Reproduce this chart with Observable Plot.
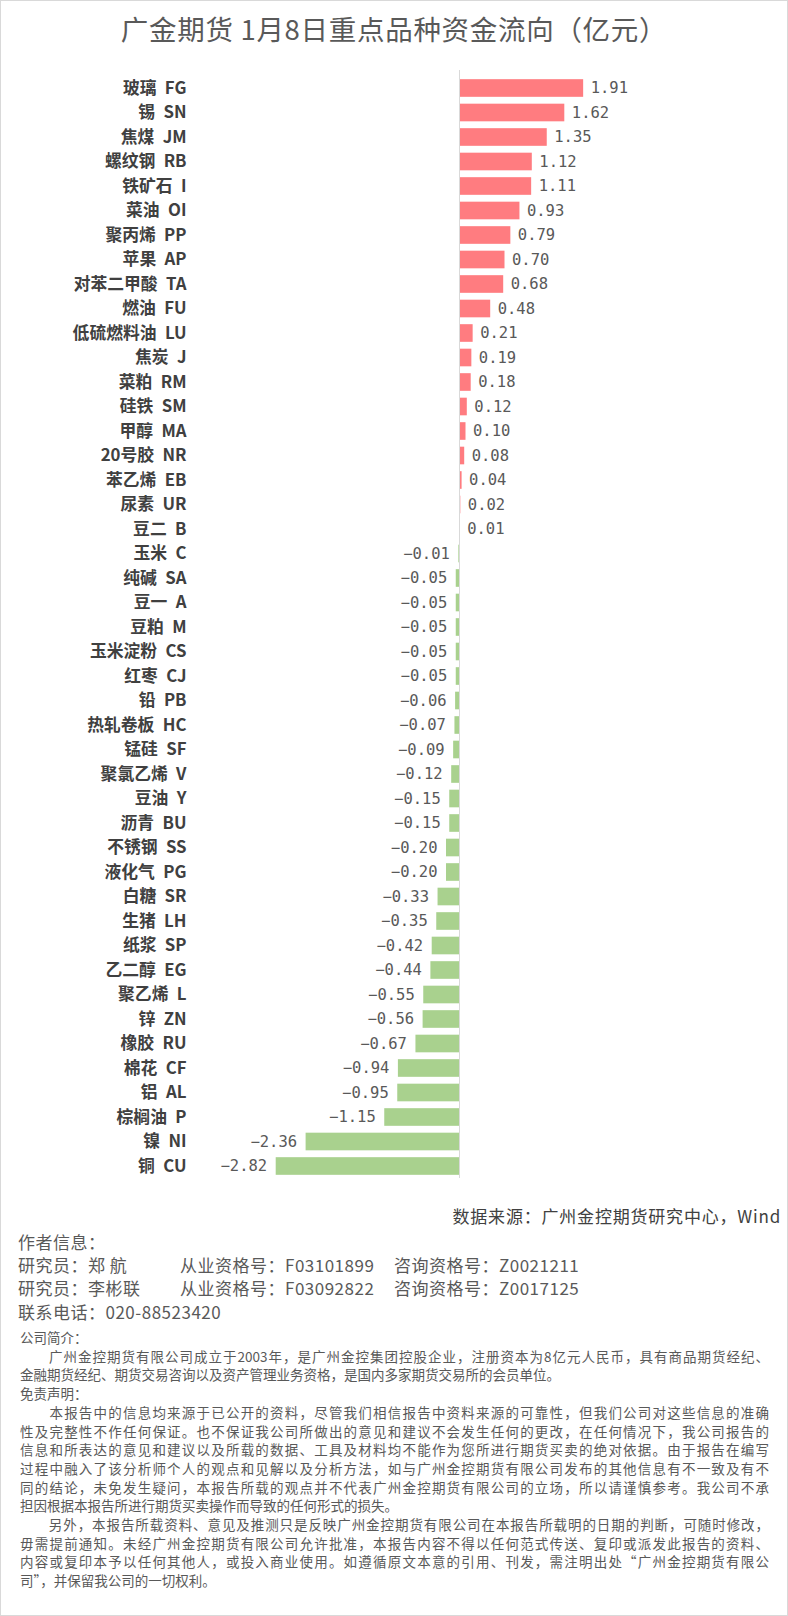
<!DOCTYPE html>
<html><head><meta charset="utf-8">
<script src="https://cdn.jsdelivr.net/npm/d3@7"></script>
<script src="https://cdn.jsdelivr.net/npm/@observablehq/plot@0.6"></script>
<style>
body{margin:0;background:#fff;}
#page{position:relative;width:788px;height:1616px;overflow:hidden;font-family:"Noto Sans CJK SC",sans-serif;color:#595959;background:#fff;}
#frame{position:absolute;left:0;top:0;right:0;bottom:0;border:1px solid #d9d9d9;pointer-events:none;}
#title{position:absolute;left:0;top:8px;width:788px;text-align:center;font-size:27.5px;line-height:40px;color:#595959;letter-spacing:0.7px;}
#chart{position:absolute;left:0;top:60px;}
.t{position:absolute;white-space:nowrap;}
.p{position:absolute;left:20px;width:749px;white-space:nowrap;font-size:13.5px;line-height:18px;color:#595959;}
.j{text-align:justify;text-align-last:justify;white-space:normal;}
</style></head><body>
<div id="page">
<div id="title">广金期货 1月8日重点品种资金流向（亿元）</div>
<div id="chart"></div>
<div id="footer"></div>
<div id="frame"></div>
</div>
<script>
const names = ["玻璃","锡","焦煤","螺纹钢","铁矿石","菜油","聚丙烯","苹果","对苯二甲酸","燃油","低硫燃料油","焦炭","菜粕","硅铁","甲醇","20号胶","苯乙烯","尿素","豆二","玉米","纯碱","豆一","豆粕","玉米淀粉","红枣","铅","热轧卷板","锰硅","聚氯乙烯","豆油","沥青","不锈钢","液化气","白糖","生猪","纸浆","乙二醇","聚乙烯","锌","橡胶","棉花","铝","棕榈油","镍","铜"];
const codes = ["FG","SN","JM","RB","I","OI","PP","AP","TA","FU","LU","J","RM","SM","MA","NR","EB","UR","B","C","SA","A","M","CS","CJ","PB","HC","SF","V","Y","BU","SS","PG","SR","LH","SP","EG","L","ZN","RU","CF","AL","P","NI","CU"];
const values = [1.91,1.62,1.35,1.12,1.11,0.93,0.79,0.70,0.68,0.48,0.21,0.19,0.18,0.12,0.10,0.08,0.04,0.02,0.01,-0.01,-0.05,-0.05,-0.05,-0.05,-0.05,-0.06,-0.07,-0.09,-0.12,-0.15,-0.15,-0.20,-0.20,-0.33,-0.35,-0.42,-0.44,-0.55,-0.56,-0.67,-0.94,-0.95,-1.15,-2.36,-2.82];

const sourceText = "数据来源：广州金控期货研究中心，Wind";
const authorHead = "作者信息：";
const authors = [
  ["研究员：郑 航", "从业资格号：F03101899", "咨询资格号：Z0021211"],
  ["研究员：李彬联", "从业资格号：F03092822", "咨询资格号：Z0017125"]
];
const phone = "联系电话：020-88523420";
const paraLines = [
  ["公司简介：", 0],
  ["　　广州金控期货有限公司成立于2003年，是广州金控集团控股企业，注册资本为8亿元人民币，具有商品期货经纪、", 1],
  ["金融期货经纪、期货交易咨询以及资产管理业务资格，是国内多家期货交易所的会员单位。", 0],
  ["免责声明：", 0],
  ["　　本报告中的信息均来源于已公开的资料，尽管我们相信报告中资料来源的可靠性，但我们公司对这些信息的准确", 1],
  ["性及完整性不作任何保证。也不保证我公司所做出的意见和建议不会发生任何的更改，在任何情况下，我公司报告的", 1],
  ["信息和所表达的意见和建议以及所载的数据、工具及材料均不能作为您所进行期货买卖的绝对依据。由于报告在编写", 1],
  ["过程中融入了该分析师个人的观点和见解以及分析方法，如与广州金控期货有限公司发布的其他信息有不一致及有不", 1],
  ["同的结论，未免发生疑问，本报告所载的观点并不代表广州金控期货有限公司的立场，所以请谨慎参考。我公司不承", 1],
  ["担因根据本报告所进行期货买卖操作而导致的任何形式的损失。", 0],
  ["　　另外，本报告所载资料、意见及推测只是反映广州金控期货有限公司在本报告所载明的日期的判断，可随时修改，", 1],
  ["毋需提前通知。未经广州金控期货有限公司允许批准，本报告内容不得以任何范式传送、复印或派发此报告的资料、", 1],
  ["内容或复印本予以任何其他人，或投入商业使用。如遵循原文本意的引用、刊发，需注明出处“广州金控期货有限公", 1],
  ["司”，并保留我公司的一切权利。", 0]
];

const data = names.map((n, i) => ({key: n + "\u2002" + codes[i], value: values[i]}));
const keys = data.map(d => d.key);
const fmt = v => (v < 0 ? "\u2212" : "") + Math.abs(v).toFixed(2);

const chart = Plot.plot({
  width: 788,
  height: 1130,
  marginTop: 10,
  marginBottom: 12,
  marginLeft: 190,
  marginRight: 10,
  style: {fontFamily: "'Noto Sans CJK SC', sans-serif", color: "#404040", background: "transparent"},
  x: {domain: [-3, 2], range: [264, 589], axis: null},
  y: {domain: keys, range: [15.75, 1118.25], paddingInner: 0.28, paddingOuter: 0.14, round: false, axis: null},
  marks: [
    Plot.barX(data.filter(d => d.value >= 0), {x: "value", y: "key", fill: "#FF7C80"}),
    Plot.barX(data.filter(d => d.value < 0), {x: "value", y: "key", fill: "#A9D18E"}),
    Plot.ruleX([0], {stroke: "#d9d9d9", strokeWidth: 1}),
    Plot.text(data.filter(d => d.value >= 0), {x: "value", y: "key", text: d => fmt(d.value), textAnchor: "start", dx: 7, fontSize: 15.5, fill: "#595959", fontFamily: "'DejaVu Sans Mono', monospace"}),
    Plot.text(data.filter(d => d.value < 0), {x: "value", y: "key", text: d => fmt(d.value), textAnchor: "end", dx: -9, fontSize: 15.5, fill: "#595959", fontFamily: "'DejaVu Sans Mono', monospace"}),
    Plot.axisY({tickSize: 0, tickPadding: 4, fontSize: 16.8, fontWeight: "bold", fill: "#404040", label: null, style: {letterSpacing: "2px"}})
  ]
});
document.getElementById("chart").appendChild(chart);

const footer = document.getElementById("footer");
function addText(txt, left, cy, size, extra) {
  const d = document.createElement("div");
  d.className = "t";
  d.textContent = txt;
  d.style.fontSize = size + "px";
  d.style.lineHeight = "22px";
  d.style.top = (cy - 11) + "px";
  if (left !== null) d.style.left = left + "px";
  Object.assign(d.style, extra || {});
  footer.appendChild(d);
  return d;
}
addText(sourceText, null, 1216, 17, {right: "7px", color: "#404040", letterSpacing: "0.8px"});
addText(authorHead, 18, 1242, 17, {letterSpacing: "0.5px"});
authors.forEach((a, i) => {
  const cy = 1265 + i * 23;
  addText(a[0], 18, cy, 17, {letterSpacing: "0.5px"});
  addText(a[1], 180, cy, 17, {letterSpacing: "0.5px"});
  addText(a[2], 394, cy, 17, {letterSpacing: "0.5px"});
});
addText(phone, 18, 1312, 17, {letterSpacing: "0.5px"});
paraLines.forEach((l, i) => {
  const d = document.createElement("div");
  d.className = "p" + (l[1] ? " j" : "");
  d.textContent = l[0];
  d.style.top = (1337 - 9 + i * 18.7) + "px";
  footer.appendChild(d);
});
</script>
</body></html>
